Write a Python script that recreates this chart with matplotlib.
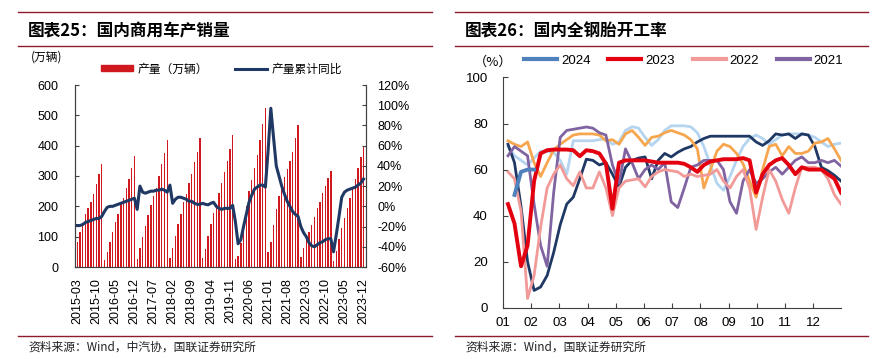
import numpy as np
import pandas as pd
import matplotlib
matplotlib.use("Agg")
import matplotlib.pyplot as plt
from matplotlib.lines import Line2D
from matplotlib.patches import Patch

plt.rcParams['font.family'] = ['Liberation Sans', 'Noto Sans CJK SC']
plt.rcParams['axes.unicode_minus'] = False

# ---- left chart data: cumulative CV production (万辆) and cumulative YoY (%) ----
prod_2015 = [83, 116, 143, 176, 193, 215, 242, 275, 306, 339]          # Mar-Dec
prod_2016 = [22, 50, 83, 116, 149, 176, 209, 229, 259, 289, 325, 366]
prod_2017 = [28, 62, 100, 135, 170, 203, 234, 261, 299, 338, 376, 420]
prod_2018 = [29, 62, 102, 141, 176, 215, 242, 277, 308, 346, 379, 426]
prod_2019 = [30, 60, 103, 141, 178, 209, 245, 278, 314, 348, 388, 436]
prod_2020 = [28, 37, 80, 144, 200, 250, 288, 325, 369, 419, 470, 523]
prod_2021 = [48, 82, 140, 190, 233, 270, 298, 322, 350, 380, 425, 467]
prod_2022 = [34, 62, 100, 116, 139, 166, 193, 215, 243, 267, 292, 318]
prod_2023 = [20, 53, 92, 128, 161, 194, 226, 260, 290, 325, 364, 400]

yoy_2015 = [-19, -19, -18, -16, -15, -14, -13, -12, -12, -10]
yoy_2016 = [-5, -1, 0, 0, 1, 2, 3, 4, 5, 6, 7, 8]
yoy_2017 = [-3, 20, 14, 13, 14, 15, 15, 16, 16, 17, 16, 14]
yoy_2018 = [21, 3, 7, 9, 9, 8, 7, 5, 5, 3, 2, 2]
yoy_2019 = [3, 2, 1.5, 3, 4, 0, -2, -3, -2, -2, -2, 1]
yoy_2020 = [-15, -37, -33, -20, -8, 4, 11, 17, 19, 21, 21, 19]
yoy_2021 = [55, 97, 68, 40, 30, 20, 12, 5, 0, -5, -8, -10]
yoy_2022 = [-20, -26, -30, -36, -39, -40, -38, -36, -35, -33, -32, -32]
yoy_2023 = [-45, -28, -10, 9, 14, 16, 17, 18, 19, 21, 23, 27]

production = (prod_2015 + prod_2016 + prod_2017 + prod_2018 + prod_2019
              + prod_2020 + prod_2021 + prod_2022 + prod_2023)
yoy = (yoy_2015 + yoy_2016 + yoy_2017 + yoy_2018 + yoy_2019
       + yoy_2020 + yoy_2021 + yoy_2022 + yoy_2023)
months = [p.strftime('%Y-%m') for p in pd.period_range('2015-03', '2023-12', freq='M')]

# ---- right chart data: weekly all-steel tyre operating rate (%) ----
rate_2024 = [np.nan, 49, 59, 60, 60]
rate_2023 = [45, 36.6, 18, 27, 55, 67, 68.4, 68.7, 68.7, 68.7, 68.4, 65.8, 68.4, 68, 67, 62.6,
             43, 63, 64, 64, 64, 64, 63.5, 63, 63, 63, 63, 62.5, 61, 59, 62, 63.5,
             64, 64.5, 64.5, 64.5, 65, 64, 50, 58, 62, 64, 65, 62, 58, 61, 60, 60,
             60, 58, 56, 50]
rate_2022 = [59, 56, 42, 4, 14, 35, 52, 58, 62, 56, 53, 59, 52, 52, 59, 52,
             40, 52, 55, 55.5, 56, 52.5, 57, 59, 60, 59.5, 59, 57, 58, 57, 57.5, 58,
             60, 55, 52, 57, 60, 52, 34, 48, 60, 55, 47, 41, 52, 61, 61, 61,
             60, 56, 49, 45]
rate_2021 = [66, 70, 68, 66, 45, 27, 18, 50, 74, 77, 77.5, 78, 78.5, 78, 76, 75,
             62, 54, 69, 63, 56, 60, 62, 60, 63, 46, 43.5, 52, 61, 62, 64, 64,
             64, 60, 46, 41, 55, 60, 54, 56, 59, 61, 58, 61, 64, 65.5, 63, 63,
             64, 63, 64, 61.5]
rate_2020 = [72.5, 71, 70, 72, 63, 57, 63, 68.5, 71, 73, 75, 75.5, 75.5, 75.5, 75, 72.5,
             73, 71, 75.5, 77, 74, 70.5, 74, 74.5, 76, 77, 76, 75, 73, 69, 52, 60,
             68, 71, 70, 67, 62.5, 55, 48, 60, 70, 71, 66, 70, 67, 67, 68, 71.5,
             72, 73.5, 69, 64]
rate_2019 = [71, 63, 44, 20, 7.5, 9, 14, 24, 36, 45, 48, 56, 64.5, 64, 62, 63,
             58, 52.5, 61, 64, 65, 65.5, 56, 64, 67, 65.5, 67.5, 69, 70, 72, 73.5, 74.5,
             74.5, 74.5, 74.5, 74.5, 74.5, 74.5, 72, 70.5, 72.5, 75.5, 75, 75.5, 73.5, 75.5, 75, 70,
             61, 59.5, 57.5, 55]
rate_2018 = [70, 66, 64, 62, 65, 68, 68, 67.5, 64, 58, 72.5, 72.5, 72.5, 72.5, 73, 73.5,
             71, 72, 77, 78.6, 78, 74, 70.5, 73, 77, 79, 79, 79, 78.6, 76, 70, 62,
             54, 51, 57, 64, 70, 73.5, 75, 73.5, 71, 73, 75, 75.5, 75.5, 75.5, 75, 74,
             72, 70, 71, 71.5]
month_labels = ['01', '02', '03', '04', '05', '06', '07', '08', '09', '10', '11', '12']

# ---- figure ----
W, H = 876, 359
fig = plt.figure(figsize=(W / 100, H / 100), dpi=100)


def fx(px):
    return px / W


def fy(py):
    return 1 - py / H


rule_color = '#8C1C2C'
cjk = ['Noto Sans CJK SC', 'DejaVu Sans']
for x0, x1 in [(18, 432), (455, 868)]:
    for yy in (12.3, 46, 336):
        fig.add_artist(Line2D([fx(x0), fx(x1)], [fy(yy), fy(yy)], color=rule_color,
                              lw=1, transform=fig.transFigure))

fig.text(fx(28), fy(31), '图表25：国内商用车产销量', fontsize=12, fontweight='bold',
         family=cjk, va='center', ha='left')
fig.text(fx(465), fy(31), '图表26：国内全钢胎开工率', fontsize=12, fontweight='bold',
         family=cjk, va='center', ha='left')
fig.text(fx(28), fy(347), '资料来源：Wind，中汽协，国联证券研究所', fontsize=8.5,
         family=cjk, va='center', ha='left', color='#222222')
fig.text(fx(465), fy(347), '资料来源：Wind，国联证券研究所', fontsize=8.5,
         family=cjk, va='center', ha='left', color='#222222')

# ---- left chart ----
ax1 = fig.add_axes([fx(75), fy(267), (366 - 75) / W, (267 - 85) / H])
ax1r = ax1.twinx()
x = np.arange(len(production))
ax1.bar(x, production, width=0.5, color='#D0181F', zorder=2)
ax1r.plot(x, yoy, color='#1F3864', lw=2.2, zorder=3)

ax1.set_xlim(-0.8, len(x) - 0.1)
ax1.set_ylim(0, 600)
ax1.set_yticks(range(0, 601, 100))
ax1r.set_ylim(-60, 120)
ax1r.set_yticks(range(-60, 121, 20))
ax1r.set_yticklabels([f'{v}%' for v in range(-60, 121, 20)])
ax1.set_xticks(x[::7])
ax1.set_xticklabels(months[::7], rotation=90)

for a in (ax1, ax1r):
    a.spines['top'].set_visible(False)
    for s in ('left', 'right', 'bottom'):
        a.spines[s].set_color('#404040')
        a.spines[s].set_linewidth(0.8)
ax1.tick_params(axis='y', direction='in', length=3, pad=12, labelsize=9, color='#404040')
ax1r.tick_params(axis='y', direction='in', length=3, pad=8, labelsize=9, color='#404040')
ax1.tick_params(axis='x', length=0, pad=8, labelsize=9)

fig.text(fx(31), fy(57), '(万辆)', fontsize=8.5, family=cjk, va='center', ha='left')
fig.legend([Patch(color='#D0181F'), Line2D([], [], color='#1F3864', lw=2.2)],
           ['产量（万辆）', '产量累计同比'], loc='center left',
           bbox_to_anchor=(fx(101), fy(69)), ncol=2, frameon=False,
           handlelength=2.7, handleheight=0.45, handletextpad=0.4, columnspacing=2.3,
           borderpad=0, borderaxespad=0, prop={'family': cjk, 'size': 8.5})

# ---- right chart ----
ax2 = fig.add_axes([fx(503), fy(307.7), (841 - 503) / W, (307.7 - 77.5) / H])
weeks = np.arange(52)
series = [
    (rate_2018, '#B4D4F0', 2.0, None),
    (rate_2019, '#1F3864', 2.0, None),
    (rate_2020, '#F7A650', 2.0, None),
    (rate_2021, '#8064A2', 2.0, '2021'),
    (rate_2022, '#F29A98', 2.0, '2022'),
    (rate_2023, '#E3000F', 2.8, '2023'),
    (rate_2024, '#4F81BD', 2.8, '2024'),
]
handles = {}
for vals, col, lw, lab in series:
    ax2.plot(weeks[:len(vals)], vals, color=col, lw=lw)
    if lab:
        handles[lab] = Line2D([], [], color=col, lw=3)

ax2.set_xlim(-0.76, 51)
ax2.set_xticks(-0.76 + np.arange(12) * 4.32)
ax2.set_xticklabels(month_labels)
ax2.set_ylim(0, 100)
ax2.set_yticks(range(0, 101, 20))
for s in ('top', 'right'):
    ax2.spines[s].set_visible(False)
for s in ('left', 'bottom'):
    ax2.spines[s].set_color('#404040')
    ax2.spines[s].set_linewidth(0.8)
ax2.tick_params(axis='both', direction='in', length=3.5, labelsize=9.5, color='#404040')
ax2.tick_params(axis='y', pad=11)
ax2.tick_params(axis='x', pad=7)

fig.text(fx(474), fy(62), '（%）', fontsize=9.5, family=cjk, va='center', ha='left')
labs = ['2024', '2023', '2022', '2021']
fig.legend([handles[k] for k in labs], labs, loc='center left',
           bbox_to_anchor=(fx(524), fy(61)), ncol=4, frameon=False, fontsize=9.5,
           handlelength=2.5, handletextpad=0.3, columnspacing=1.35,
           borderpad=0, borderaxespad=0)

fig.savefig('out.png', dpi=100)
